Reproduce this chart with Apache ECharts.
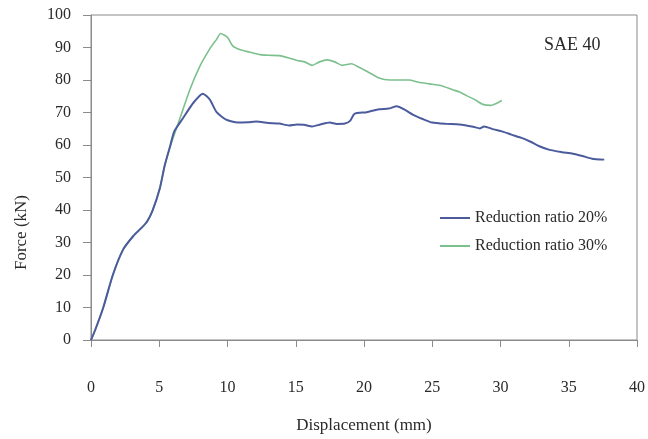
<!DOCTYPE html>
<html><head><meta charset="utf-8">
<script src="https://cdn.jsdelivr.net/npm/echarts@6/dist/echarts.min.js"></script>
<style>html,body{margin:0;padding:0;background:#fff}#c{width:648px;height:439px}</style>
</head><body><div id="c"></div>
<script>
const xTicks = [0,5,10,15,20,25,30,35,40];
const yTicks = [0,10,20,30,40,50,60,70,80,90,100];
const seriesNames = ['Reduction ratio 20%','Reduction ratio 30%'];
const x20 = [0,0.3,0.9,1.6,2.35,3.1,3.7,4.1,4.5,5.05,5.4,5.8,6.1,6.7,7.5,8.2,8.7,9.2,9.9,10.75,11.5,12.1,13.0,13.8,14.5,15.1,15.6,16.2,16.8,17.5,18.0,18.6,19.0,19.3,20.2,21.1,21.8,22.4,23.0,23.6,24.3,25.0,26.0,27.0,28.0,28.5,28.8,29.5,30.1,30.8,31.6,32.2,32.8,33.6,34.5,35.3,36.0,36.7,37.6];
const y20 = [0,3,10,20,27.8,32,34.5,36.4,39.7,46.8,53.7,59.7,64.2,68,73,75.8,74,70.1,67.8,66.9,67.0,67.2,66.8,66.6,66.0,66.3,66.2,65.7,66.3,66.9,66.5,66.6,67.5,69.6,70.1,71.0,71.2,71.9,70.8,69.3,68.0,66.9,66.5,66.3,65.6,65.1,65.7,64.8,64.2,63.2,62.1,61.0,59.7,58.5,57.8,57.3,56.6,55.8,55.5];
const x30 = [0,0.3,0.9,1.6,2.35,3.1,3.7,4.1,4.5,5.05,5.4,5.8,6.0,6.5,7.24,7.97,8.7,9.2,9.5,10.0,10.4,11.0,11.6,12.4,13.0,13.8,14.5,15.1,15.7,16.2,16.7,17.3,17.9,18.4,19.1,19.6,20.2,21.1,21.9,22.6,23.3,24.0,24.8,25.6,26.5,27.0,27.5,28.1,28.7,29.3,29.7,30.1];
const y30 = [0,3,10,20,27.8,32,34.5,36.4,39.7,46.8,53.7,59.5,62,68,77,84.2,89.6,92.5,94.3,93.1,90.4,89.2,88.6,87.8,87.6,87.5,86.8,86,85.5,84.5,85.5,86.2,85.5,84.5,85,84,82.7,80.6,80,80,80,79.3,78.8,78.3,77,76.3,75.2,74,72.5,72.2,72.8,73.7];

const zip = (a,b) => a.map((v,i)=>[v,b[i]]);
const font = 'Liberation Serif';
const axisGray = '#8a8a8a';
const chart = echarts.init(document.getElementById('c'), null, {renderer:'canvas'});
chart.setOption({
  animation:false,
  backgroundColor:'#fff',
  grid:{left:91,right:10,top:15,bottom:89,show:true,borderColor:axisGray,borderWidth:1},
  xAxis:{type:'value',min:xTicks[0],max:xTicks[xTicks.length-1],interval:5,
    axisLine:{show:true,lineStyle:{color:axisGray,width:1}},
    axisTick:{show:true,inside:false,length:7,lineStyle:{color:axisGray}},
    splitLine:{show:false},
    axisLabel:{margin:40,color:'#2a2a2a',fontFamily:font,fontSize:16},
    name:'Displacement (mm)',nameLocation:'middle',nameGap:77,
    nameTextStyle:{color:'#2a2a2a',fontFamily:font,fontSize:17}},
  yAxis:{type:'value',min:yTicks[0],max:yTicks[yTicks.length-1],interval:10,
    axisLine:{show:true,lineStyle:{color:axisGray,width:1}},
    axisTick:{show:true,inside:false,length:8,lineStyle:{color:axisGray}},
    splitLine:{show:false},
    axisLabel:{margin:20,color:'#2a2a2a',fontFamily:font,fontSize:16}},
  legend:{orient:'vertical',left:435,top:205,itemWidth:30,itemHeight:2,itemGap:12,icon:'rect',
    textStyle:{color:'#2a2a2a',fontFamily:font,fontSize:16},data:seriesNames},
  graphic:[
    {type:'text',left:13,top:195,rotation:Math.PI/2,
      style:{text:'Force (kN)',fill:'#2a2a2a',font:'17px "Liberation Serif"',align:'center',verticalAlign:'middle'}},
    {type:'text',left:544,top:36,
      style:{text:'SAE 40',fill:'#2a2a2a',font:'18px "Liberation Serif"'}}
  ],
  series:[
    {name:seriesNames[0],type:'line',data:zip(x20,y20),showSymbol:false,smooth:0.2,
      lineStyle:{color:'#4b5b9c',width:2},itemStyle:{color:'#4b5b9c'},z:3},
    {name:seriesNames[1],type:'line',data:zip(x30,y30),showSymbol:false,smooth:0.2,
      lineStyle:{color:'#7cc08e',width:1.6},itemStyle:{color:'#7cc08e'},z:2}
  ]
});
</script></body></html>
